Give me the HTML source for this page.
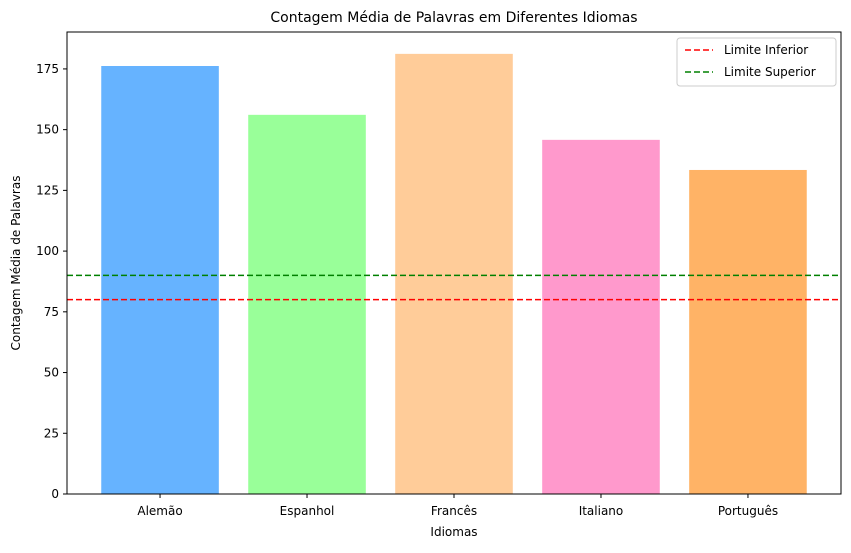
<!DOCTYPE html>
<html><head><meta charset="utf-8"><style>
body{margin:0;background:#fff}
svg text{font-family:"DejaVu Sans","Liberation Sans",sans-serif;fill:#000}
</style></head><body>
<svg id="chart" width="851" height="548" xmlns="http://www.w3.org/2000/svg"></svg>
<script>
const categories=["Alemão","Espanhol","Francês","Italiano","Português"];
const values=[176.2,156.1,181.2,145.8,133.4];
const colors=["#66b3ff","#99ff99","#ffcc99","#ff99cc","#ffb366"];
const yTicks=[0,25,50,75,100,125,150,175];
const lowerLimit=80, upperLimit=90;
const L=67,R=841,T=32,B=494,yMax=190.2;
const NS="http://www.w3.org/2000/svg";
const svg=document.getElementById('chart');
const y=v=>B-(v/yMax)*(B-T);
const step=(R-L)/(categories.length-1+1.266);
const x=i=>L+(i+0.633)*step;
function el(t,a,txt){const e=document.createElementNS(NS,t);for(const k in a)e.setAttribute(k,a[k]);if(txt!=null)e.textContent=txt;svg.appendChild(e);return e;}
const title=el('text',{x:(L+R)/2,y:22,'text-anchor':'middle','font-size':14},'Contagem Média de Palavras em Diferentes Idiomas');


values.forEach((v,i)=>{
  const r=el('rect',{x:x(i)-0.4*step,y:y(v),width:0.8*step,height:B-y(v),fill:colors[i]});
  
  
  el('line',{x1:x(i),x2:x(i),y1:B,y2:B+4,stroke:'#000'});
  const t=el('text',{x:x(i),y:B+21,'text-anchor':'middle','font-size':12},categories[i]);
  
  
});
yTicks.forEach(v=>{
  el('line',{x1:L-4,x2:L,y1:y(v),y2:y(v),stroke:'#000'});
  const t=el('text',{x:L-8,y:y(v)+4,'text-anchor':'end','font-size':12},v);
  
  
});
const lo=el('line',{x1:L,x2:R,y1:y(lowerLimit),y2:y(lowerLimit),stroke:'red','stroke-width':1.5,'stroke-dasharray':'6,3'});


const up=el('line',{x1:L,x2:R,y1:y(upperLimit),y2:y(upperLimit),stroke:'green','stroke-width':1.5,'stroke-dasharray':'6,3'});


const frame=el('rect',{x:L,y:T,width:R-L,height:B-T,fill:'none',stroke:'#000','stroke-width':1});


const xt=el('text',{x:(L+R)/2,y:536,'text-anchor':'middle','font-size':12},'Idiomas');


const yt=el('text',{x:20,y:(T+B)/2,'text-anchor':'middle','font-size':12,transform:`rotate(-90 20 ${(T+B)/2})`},'Contagem Média de Palavras');


const lg=el('rect',{x:677,y:38,width:159,height:48,fill:'#fff',stroke:'#ccc',rx:3});


[["Limite Inferior","red",50],["Limite Superior","green",72]].forEach(([n,c,yy])=>{
  el('line',{x1:685,x2:713,y1:yy,y2:yy,stroke:c,'stroke-width':1.5,'stroke-dasharray':'6,3'});
  const t=el('text',{x:724,y:yy+4,'font-size':12},n);
  
  
});
</script>
</body></html>
